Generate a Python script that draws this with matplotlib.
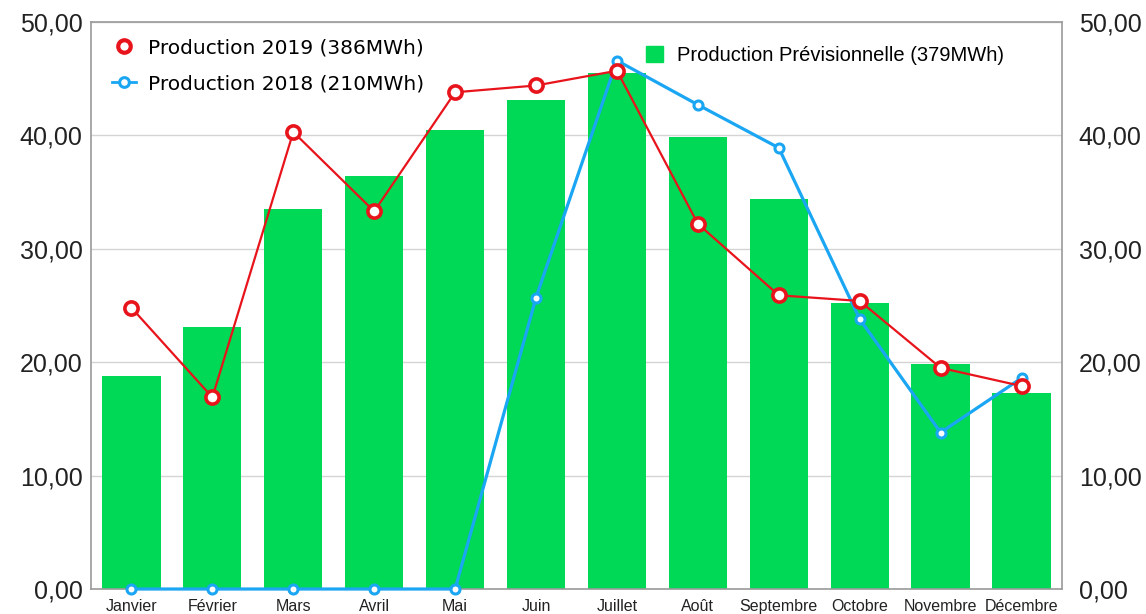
import numpy as np
import matplotlib.pyplot as plt
from matplotlib.lines import Line2D
from matplotlib.patches import Patch

mois = ['Janvier', 'Février', 'Mars', 'Avril', 'Mai', 'Juin', 'Juillet',
        'Août', 'Septembre', 'Octobre', 'Novembre', 'Décembre']
prev = [18.8, 23.1, 33.5, 36.4, 40.5, 43.1, 45.5, 39.9, 34.4, 25.2, 19.8, 17.3]
prod_2019 = [24.8, 16.9, 40.3, 33.3, 43.8, 44.4, 45.7, 32.2, 25.9, 25.4, 19.5, 17.9]
prod_2018 = [0, 0, 0, 0, 0, 25.7, 46.6, 42.7, 38.9, 23.8, 13.8, 18.6]
yticks = [0, 10, 20, 30, 40, 50]
ylabels = ['0,00', '10,00', '20,00', '30,00', '40,00', '50,00']

GREEN = '#00d955'
RED = '#e8141c'
BLUE = '#1aa6f2'

fig = plt.figure(figsize=(11.46, 6.14), dpi=100)
ax = fig.add_axes([0.0794, 0.0407, 0.8473, 0.9235])

x = np.arange(len(mois))
ax.bar(x, prev, width=0.72, color=GREEN, zorder=2)
ax.plot(x, prod_2018, color=BLUE, lw=2.3, marker='o', ms=6.5, mfc='white',
        mec=BLUE, mew=2.2, zorder=3, clip_on=False)
ax.plot(x, prod_2019, color=RED, lw=1.6, marker='o', ms=9.5, mfc='white',
        mec=RED, mew=2.6, zorder=4, clip_on=False)

ax.set_xlim(-0.5, len(mois) - 0.5)
ax.set_ylim(0, 50)
ax.set_yticks(yticks)
ax.set_yticklabels(ylabels, fontsize=18, family='Liberation Sans', color='#222222')
ax.set_xticks(x)
ax.set_xticklabels(mois, fontsize=11.5, family='Liberation Sans', color='#222222')
ax.tick_params(axis='both', length=0)
ax.tick_params(axis='y', pad=6)
ax.tick_params(axis='x', pad=7)
ax.grid(axis='y', color='#d4d4d4', lw=1, zorder=0)
for s in ax.spines.values():
    s.set_color('#9a9a9a')
    s.set_linewidth(1.2)

ax2 = ax.twinx()
ax2.set_ylim(0, 50)
ax2.set_yticks(yticks)
ax2.set_yticklabels(ylabels, fontsize=18, family='Liberation Sans', color='#222222')
ax2.tick_params(axis='y', length=0, pad=12)
for s in ax2.spines.values():
    s.set_visible(False)

h1 = [Line2D([], [], ls='none', marker='o', ms=9, mfc='white', mec=RED, mew=3),
      Line2D([], [], color=BLUE, lw=2, marker='o', ms=7, mfc='white', mec=BLUE, mew=2.2)]
leg1 = ax.legend(h1, ['Production 2019 (386MWh)', 'Production 2018 (210MWh)'],
                 loc='upper left', bbox_to_anchor=(0.003, 1.003), frameon=False,
                 prop={'family': 'DejaVu Sans', 'size': 14.5}, handlelength=1.2,
                 labelspacing=0.85, handletextpad=0.6)
ax.add_artist(leg1)
h2 = [Patch(color=GREEN)]
ax.legend(h2, ['Production Prévisionnelle (379MWh)'], loc='upper left',
          bbox_to_anchor=(0.553, 0.99), frameon=False,
          prop={'family': 'Liberation Sans', 'size': 14.5}, handlelength=0.85,
          handleheight=0.85, handletextpad=0.7)

fig.savefig('out.png', dpi=100)
